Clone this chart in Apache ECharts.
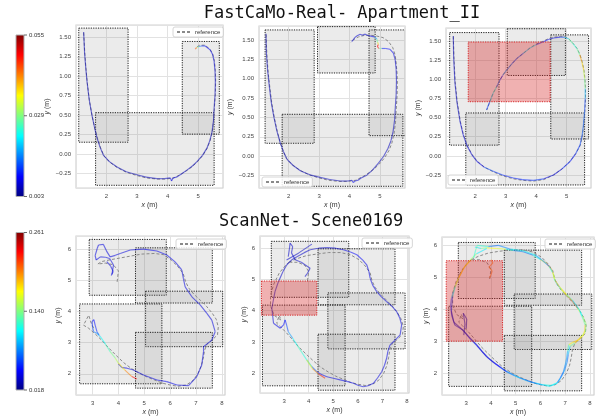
<!DOCTYPE html>
<html><head><meta charset="utf-8">
<script src="https://cdn.jsdelivr.net/npm/echarts@6/dist/echarts.min.js"></script>
<style>html,body{margin:0;padding:0;background:#fff}#c{width:603px;height:417px}</style>
</head><body><div id="c"></div>
<script>
// ---------------- DATA ----------------
const titles = ['FastCaMo-Real- Apartment_II', 'ScanNet- Scene0169'];
const errRangeTop = [0.003, 0.055];
const errRangeBot = [0.018, 0.261];
const cbLabelsTop = ['0.055', '0.029', '0.003'];
const cbLabelsBot = ['0.261', '0.140', '0.018'];
const xRanges = [[1.01, 5.81], [1.03, 5.82], [1.04, 5.80], [2.36, 8.12], [2.02, 8.08], [2.02, 8.17]];
const yRanges = [[-0.44, 1.66], [-0.41, 1.68], [-0.42, 1.67], [1.32, 6.42], [1.37, 6.39], [1.33, 6.26]];
const xSteps = [1, 1, 1, 1, 1, 1];
const ySteps = [0.25, 0.25, 0.25, 1, 1, 1];

// boxes: [x1, y1, x2, y2]
const fcBoxes1 = [[1.10, 0.15, 2.71, 1.62], [1.65, -0.405, 5.52, 0.53], [4.48, 0.254, 5.69, 1.448]];
const fcBoxes2 = [[1.23, 0.167, 2.84, 1.629], [1.79, -0.388, 5.75, 0.541], [2.95, 1.074, 4.84, 1.672], [4.64, 0.265, 5.85, 1.629]];
const fcBoxes3 = [[1.16, 0.14, 2.78, 1.61], [1.69, -0.38, 5.59, 0.56], [3.05, 1.05, 4.96, 1.66], [4.48, 0.22, 5.72, 1.58]];
const fcRed3 = [[1.77, 0.707, 4.46, 1.487]];
const scBoxes4 = [[2.87, 4.52, 5.85, 6.31], [4.66, 4.27, 7.63, 6.04], [5.05, 2.87, 8.03, 4.65], [2.50, 1.68, 5.68, 4.24], [4.66, 1.54, 7.63, 3.33]];
const scBoxes5 = [[2.48, 4.43, 5.63, 6.22], [4.38, 4.19, 7.51, 5.98], [4.78, 2.78, 7.92, 4.57], [2.12, 1.60, 5.48, 4.18], [4.38, 1.46, 7.51, 3.25]];
const scRed5 = [[2.08, 3.86, 4.33, 4.95]];
const scBoxes6 = [[2.68, 4.34, 5.79, 6.09], [4.54, 4.13, 7.67, 5.85], [4.94, 2.75, 8.08, 4.48], [2.29, 1.60, 5.65, 4.10], [4.54, 1.46, 7.67, 3.19]];
const scRed6 = [[2.19, 3.01, 4.47, 5.52]];

// reference trajectories [x, y]
const fcRef1 = [[1.26,1.56],[1.30,1.28],[1.34,1.08],[1.38,0.91],[1.45,0.68],[1.54,0.48],[1.63,0.32],[1.72,0.19],[1.82,0.07],[1.93,-0.03],[2.12,-0.11],[2.37,-0.18],[2.67,-0.24],[3.0,-0.28],[3.3,-0.31],[3.65,-0.325],[3.95,-0.325],[4.2,-0.31],[4.45,-0.26],[4.65,-0.21],[4.82,-0.16],[4.98,-0.10],[5.15,-0.02],[5.29,0.07],[5.39,0.17],[5.46,0.29],[5.51,0.44],[5.53,0.60],[5.56,0.77],[5.57,0.94],[5.56,1.07],[5.53,1.20],[5.47,1.29],[5.38,1.35],[5.22,1.40],[5.05,1.40],[4.92,1.37]];
const fcRef2 = [[1.26,1.57],[1.29,1.30],[1.33,1.08],[1.38,0.91],[1.45,0.68],[1.54,0.48],[1.63,0.32],[1.72,0.19],[1.82,0.07],[1.93,-0.03],[2.12,-0.11],[2.37,-0.18],[2.67,-0.24],[3.0,-0.28],[3.3,-0.31],[3.65,-0.325],[3.95,-0.325],[4.2,-0.31],[4.45,-0.26],[4.65,-0.21],[4.82,-0.16],[4.98,-0.10],[5.15,-0.02],[5.29,0.07],[5.39,0.17],[5.46,0.29],[5.51,0.44],[5.53,0.60],[5.56,0.77],[5.57,0.94],[5.56,1.07],[5.53,1.20],[5.50,1.30],[5.42,1.40],[5.28,1.48],[5.10,1.53],[4.90,1.55],[4.70,1.56],[4.50,1.56],[4.30,1.54],[4.15,1.51],[4.05,1.47]];
const fcRef3 = [[1.28,1.56],[1.30,1.30],[1.34,0.97],[1.41,0.70],[1.51,0.45],[1.61,0.28],[1.73,0.14],[1.89,0.02],[2.06,-0.07],[2.31,-0.15],[2.60,-0.21],[2.90,-0.26],[3.25,-0.30],[3.55,-0.32],[3.91,-0.33],[4.25,-0.31],[4.57,-0.25],[4.85,-0.17],[5.12,-0.07],[5.30,0.03],[5.45,0.14],[5.52,0.27],[5.56,0.40],[5.60,0.58],[5.62,0.75],[5.62,0.88],[5.60,1.01],[5.57,1.12],[5.51,1.23],[5.44,1.32],[5.35,1.40],[5.21,1.47],[5.07,1.53],[4.92,1.56],[4.79,1.56],[4.57,1.55],[4.40,1.53],[4.24,1.50],[4.00,1.46],[3.80,1.41],[3.58,1.34],[3.36,1.27],[3.20,1.20],[3.03,1.12],[2.90,1.05],[2.81,0.99],[2.70,0.90],[2.59,0.82],[2.48,0.71],[2.38,0.60]];
const scRef4 = [[3.95,4.95],[4.00,5.30],[3.80,5.50],[3.50,5.55],[3.20,5.52],[3.35,5.60],[3.70,5.66],[4.30,5.75],[4.90,5.84],[5.40,5.86],[5.75,5.82],[6.05,5.64],[6.30,5.44],[6.50,5.22],[6.60,4.95],[6.72,4.75],[6.92,4.55],[7.18,4.35],[7.42,4.15],[7.62,3.95],[7.78,3.75],[7.86,3.50],[7.83,3.25],[7.62,3.08],[7.42,2.95],[7.33,2.75],[7.28,2.50],[7.20,2.25],[7.07,2.00],[6.88,1.78],[6.62,1.64],[6.30,1.60],[6.00,1.64],[5.70,1.70],[5.40,1.80],[5.10,1.90],[4.80,2.02],[4.50,2.17],[4.20,2.36],[3.90,2.60],[3.60,2.85],[3.35,3.08],[3.10,3.28],[2.85,3.46],[2.65,3.56],[2.75,3.72],[2.85,3.88],[2.95,3.62],[3.05,3.45]];
const scRefLoop = [[3.20,5.55],[3.50,5.66],[3.90,5.76],[4.30,5.81],[4.80,5.86],[5.30,5.86],[5.70,5.79],[6.05,5.63],[6.30,5.43],[6.50,5.21],[6.58,4.95],[6.70,4.75],[6.90,4.55],[7.15,4.35],[7.40,4.15],[7.60,3.95],[7.75,3.75],[7.85,3.50],[7.82,3.25],[7.60,3.08],[7.40,2.95],[7.30,2.75],[7.25,2.50],[7.18,2.25],[7.05,2.00],[6.85,1.78],[6.60,1.65],[6.30,1.61],[6.00,1.65],[5.70,1.71],[5.40,1.81],[5.10,1.91],[4.80,2.04],[4.50,2.19],[4.20,2.39],[3.90,2.61],[3.60,2.84],[3.35,3.07],[3.10,3.29],[2.85,3.49],[2.70,3.60],[2.80,3.85],[2.88,3.70],[2.60,3.85],[2.45,4.15],[2.45,4.50],[2.58,4.85],[2.80,5.20],[3.00,5.40],[3.20,5.55]];
const scRefTwig = [[3.95,4.95],[4.00,5.25],[3.85,5.45],[3.55,5.55],[3.25,5.55]];

// estimated trajectories [x, y, error]
const fcEst1 = [[1.26,1.57,.006],[1.29,1.30,.006],[1.33,1.10,.006],[1.37,0.93,.006],[1.44,0.70,.006],[1.53,0.50,.006],[1.62,0.33,.006],[1.70,0.20,.006],[1.80,0.08,.006],[1.91,-0.02,.006],[2.10,-0.10,.006],[2.35,-0.17,.006],[2.65,-0.23,.006],[3.00,-0.27,.006],[3.30,-0.30,.006],[3.65,-0.32,.006],[3.90,-0.32,.006],[4.09,-0.31,.007],[4.13,-0.35,.008],[4.18,-0.31,.008],[4.30,-0.30,.007],[4.45,-0.26,.007],[4.63,-0.21,.006],[4.80,-0.16,.006],[4.96,-0.10,.006],[5.14,-0.02,.006],[5.28,0.07,.006],[5.38,0.17,.006],[5.45,0.28,.006],[5.50,0.43,.006],[5.52,0.59,.006],[5.55,0.76,.006],[5.56,0.93,.007],[5.55,1.06,.007],[5.52,1.19,.008],[5.47,1.28,.008],[5.39,1.34,.009],[5.23,1.39,.010],[5.10,1.39,.012],[5.01,1.38,.020],[4.95,1.37,.040],[4.90,1.35,.048]];
const fcEst2 = [[1.26,1.58,.006],[1.27,1.35,.006],[1.31,1.12,.006],[1.36,0.93,.006],[1.43,0.70,.006],[1.52,0.50,.006],[1.62,0.32,.006],[1.72,0.18,.006],[1.83,0.06,.006],[1.95,-0.04,.006],[2.15,-0.12,.006],[2.40,-0.19,.006],[2.70,-0.24,.006],[3.00,-0.27,.006],[3.35,-0.30,.006],[3.70,-0.32,.006],[3.95,-0.32,.006],[4.08,-0.31,.007],[4.12,-0.34,.008],[4.18,-0.32,.008],[4.28,-0.31,.007],[4.38,-0.28,.007],[4.55,-0.25,.006],[4.75,-0.18,.006],[4.95,-0.09,.006],[5.12,0.00,.006],[5.26,0.10,.006],[5.36,0.20,.006],[5.43,0.32,.006],[5.48,0.47,.006],[5.50,0.62,.006],[5.53,0.80,.006],[5.54,0.97,.006],[5.53,1.12,.007],[5.50,1.24,.007],[5.44,1.33,.008],[5.33,1.38,.009],[5.18,1.39,.010],[5.05,1.39,.012],[4.96,1.39,.045],[4.91,1.42,.052],[4.95,1.44,.045],[4.92,1.47,.030],[4.90,1.51,.025],[4.82,1.54,.010],[4.70,1.55,.008],[4.58,1.56,.007],[4.50,1.575,.007],[4.42,1.56,.007],[4.35,1.575,.007],[4.25,1.555,.007],[4.17,1.53,.007],[4.12,1.50,.007],[4.07,1.48,.007]];
const fcEst3 = [[1.28,1.565,.006],[1.29,1.30,.006],[1.33,0.97,.007],[1.40,0.70,.006],[1.50,0.45,.007],[1.60,0.28,.009],[1.72,0.14,.007],[1.88,0.02,.008],[2.05,-0.07,.007],[2.30,-0.15,.010],[2.59,-0.20,.016],[2.90,-0.25,.008],[3.25,-0.29,.014],[3.55,-0.31,.008],[3.91,-0.32,.015],[4.25,-0.30,.009],[4.57,-0.25,.007],[4.85,-0.17,.009],[5.12,-0.07,.013],[5.30,0.03,.008],[5.44,0.14,.016],[5.51,0.27,.010],[5.55,0.40,.018],[5.59,0.58,.010],[5.61,0.75,.015],[5.61,0.88,.022],[5.59,1.01,.035],[5.56,1.12,.030],[5.50,1.23,.045],[5.43,1.32,.035],[5.34,1.40,.020],[5.20,1.47,.030],[5.06,1.53,.024],[4.92,1.55,.015],[4.79,1.55,.010],[4.57,1.54,.007],[4.40,1.52,.008],[4.24,1.49,.010],[4.00,1.45,.012],[3.80,1.41,.030],[3.58,1.34,.010],[3.36,1.27,.018],[3.20,1.20,.009],[3.03,1.12,.022],[2.90,1.05,.012],[2.81,0.99,.009],[2.70,0.90,.020],[2.59,0.82,.028],[2.48,0.71,.014],[2.37,0.60,.010]];

const scEst4a = [[3.75,5.19,.04],[3.78,5.35,.04],[3.81,5.49,.04],[3.66,5.70,.04],[3.50,5.74,.04],[3.30,5.75,.04],[3.14,5.65,.04],[3.10,5.79,.04],[3.18,6.02,.04],[3.23,6.13,.04],[3.42,6.15,.04],[3.56,5.91,.04],[3.68,5.75,.04],[3.88,5.80,.04],[4.07,5.86,.04],[4.46,5.97,.04],[4.97,6.00,.045],[5.49,5.94,.045],[5.87,5.81,.045],[6.19,5.59,.04],[6.45,5.33,.04],[6.51,5.06,.04],[6.58,4.79,.04],[6.84,4.47,.04],[7.16,4.21,.04],[7.42,3.94,.04],[7.61,3.72,.04],[7.74,3.35,.04],[7.61,3.08,.04],[7.29,2.87,.04],[7.29,2.71,.04],[7.22,2.28,.04],[7.03,1.91,.04],[6.71,1.62,.04],[6.26,1.64,.04],[5.87,1.75,.045],[5.49,1.80,.045],[4.97,1.96,.04],[4.58,2.12,.04],[4.33,2.18,.04],[4.14,2.20,.04],[4.00,2.32,.045]];
const scEst4b = [[3.55,5.60,.04],[3.70,5.45,.04],[3.80,5.28,.04],[3.72,5.15,.04]];
const scEst4c = [[4.71,1.83,.245],[4.52,1.91,.215],[4.25,2.12,.185],[4.00,2.34,.16],[3.88,2.50,.145],[3.68,2.71,.13],[3.50,2.95,.12],[3.30,3.19,.10],[3.17,3.30,.085],[3.04,3.35,.07],[3.00,3.50,.06],[2.98,3.67,.055],[3.05,3.74,.05],[3.10,3.56,.05],[3.17,3.35,.06],[3.25,3.25,.07]];

const scEst5a = [[2.50,4.08,.035],[2.63,4.61,.035],[2.77,4.93,.035],[2.95,5.25,.035],[3.11,5.47,.035],[3.30,5.62,.035],[3.52,5.73,.035],[3.80,5.85,.035],[4.06,5.95,.035],[4.40,6.00,.035],[4.74,6.02,.035],[5.10,6.00,.04],[5.41,5.95,.045],[5.70,5.88,.045],[5.96,5.79,.05],[6.20,5.62,.045],[6.36,5.47,.04],[6.45,5.25,.04],[6.50,5.04,.04],[6.60,4.82,.04],[6.77,4.61,.04],[6.95,4.45,.04],[7.17,4.29,.04],[7.40,4.13,.04],[7.58,3.97,.04],[7.70,3.78,.04],[7.78,3.55,.04],[7.72,3.23,.04],[7.50,3.05,.04],[7.31,2.91,.04],[7.22,2.70,.04],[7.17,2.48,.04],[7.08,2.25,.04],[6.97,2.05,.04],[6.80,1.85,.04],[6.63,1.68,.04],[6.42,1.60,.04],[6.22,1.57,.04],[6.00,1.62,.04],[5.82,1.68,.045],[5.55,1.74,.045],[5.28,1.79,.045],[5.00,1.84,.04],[4.74,1.89,.04],[4.50,1.97,.045],[4.33,2.05,.06],[4.12,2.22,.08],[3.92,2.43,.11],[3.72,2.67,.125],[3.52,2.91,.12],[3.35,3.12,.10],[3.17,3.33,.07],[3.10,3.55,.06],[3.04,3.71,.05],[2.98,3.55,.05],[2.84,3.44,.045],[2.57,3.60,.04],[2.50,4.08,.035]];
const scEst5b = [[3.92,2.43,.15],[4.15,2.15,.18],[4.40,1.98,.21],[4.67,1.84,.235]];
const scEst5c = [[3.17,5.73,.035],[3.22,6.00,.035],[3.24,6.16,.035],[3.35,6.05,.035],[3.30,5.85,.035],[3.45,5.63,.035],[3.70,5.55,.035],[3.85,5.47,.035],[4.06,5.36,.035],[3.95,5.20,.035],[3.85,5.09,.035]];
const scEst5d = [[3.10,5.62,.035],[3.60,5.85,.035],[4.13,6.13,.035]];

const scEst6a = [[3.35,5.95,.08],[3.60,5.90,.12],[3.83,5.92,.16],[4.23,5.90,.18],[4.60,5.88,.14],[4.90,5.84,.09],[5.30,5.80,.07],[5.71,5.69,.08],[6.00,5.56,.15],[6.26,5.43,.20],[6.45,5.25,.21],[6.52,5.12,.18],[6.56,4.95,.12],[6.66,4.81,.09],[6.85,4.62,.13],[6.99,4.50,.17],[7.15,4.38,.20],[7.33,4.23,.22],[7.50,4.05,.19],[7.60,3.92,.14],[7.72,3.72,.10],[7.81,3.51,.17],[7.80,3.35,.20],[7.74,3.20,.16],[7.55,3.05,.18],[7.33,2.98,.19],[7.15,2.90,.15],[7.10,2.70,.10],[7.06,2.47,.08],[7.00,2.25,.09],[6.93,2.05,.07],[6.80,1.85,.06],[6.66,1.69,.09],[6.39,1.60,.11],[6.20,1.63,.10],[5.98,1.66,.08],[5.70,1.72,.07],[5.45,1.79,.06],[5.15,1.87,.08],[4.90,1.97,.09],[4.60,2.08,.07],[4.36,2.21,.05],[4.10,2.35,.04],[3.83,2.52,.035],[3.60,2.72,.04],[3.42,2.88,.05],[3.15,3.09,.06],[2.88,3.35,.04],[2.54,3.51,.035],[2.41,3.82,.04],[2.37,4.13,.05],[2.40,4.35,.07],[2.47,4.55,.11],[2.58,4.78,.16],[2.68,4.96,.19],[2.88,5.27,.20],[3.15,5.53,.17],[3.42,5.74,.12],[3.83,5.90,.09]];
const scEst6b = [[3.30,5.60,.14],[3.38,5.85,.10],[3.45,6.00,.16],[3.90,5.96,.08],[4.30,6.00,.07],[4.80,5.88,.09],[5.30,5.83,.12],[5.80,5.70,.10],[6.10,5.52,.07],[6.35,5.35,.09],[6.50,5.15,.14],[6.60,4.90,.18],[6.78,4.70,.20],[7.05,4.47,.15],[7.30,4.28,.11],[7.55,4.02,.09],[7.70,3.80,.13],[7.85,3.55,.16],[7.82,3.30,.12],[7.65,3.15,.19],[7.40,2.95,.17],[7.20,2.85,.11],[7.13,2.60,.08],[7.08,2.35,.07],[6.98,2.10,.09],[6.85,1.90,.08],[6.70,1.72,.10],[6.45,1.63,.12],[6.10,1.65,.11],[5.80,1.70,.09],[5.50,1.76,.08],[5.20,1.85,.10],[4.95,1.93,.09],[4.65,2.05,.07],[4.40,2.18,.05],[4.15,2.32,.045],[3.90,2.48,.04],[3.65,2.68,.045],[3.40,2.92,.035],[3.10,3.15,.03],[2.80,3.40,.03],[2.50,3.60,.03],[2.40,3.95,.035],[2.45,4.40,.09],[2.55,4.70,.13],[2.70,5.00,.17],[2.95,5.35,.19],[3.20,5.55,.16]];
const scEst6c = [[3.95,4.98,.20],[4.05,5.20,.21],[3.92,5.32,.19],[4.08,5.45,.22],[4.00,5.55,.18]];
const scEst6d = [[2.90,3.20,.03],[2.95,3.55,.03],[2.88,3.88,.03],[3.02,3.70,.03],[3.00,3.40,.03]];

// ---------------- CHART ----------------
const jet = ['#00007f', '#0000ff', '#007fff', '#00ffff', '#7fff7f', '#ffff00', '#ff7f00', '#ff0000', '#7f0000'];
const gridRects = [
  {left: 76, top: 25, width: 147, height: 163},
  {left: 259, top: 26, width: 146, height: 162},
  {left: 446, top: 28, width: 145, height: 160},
  {left: 76, top: 236, width: 149, height: 159},
  {left: 260, top: 236, width: 149, height: 157},
  {left: 442, top: 237, width: 152, height: 158}
];
const yNameGap = [25, 25, 24, 14, 12, 12];
const legendPos = [
  {left: 173, top: 27}, {left: 262, top: 177}, {left: 448, top: 175},
  {left: 176, top: 239}, {left: 362, top: 238}, {left: 545, top: 239}
];
const FONT = 'Liberation Sans';

function tickFmt(step, dec) {
  return function (v) {
    const k = v / step;
    if (Math.abs(k - Math.round(k)) > 1e-6) return '';
    return v.toFixed(dec).replace('-', '\u2212');
  };
}

const grids = gridRects.map(r => Object.assign({show: true, borderColor: '#d2d2d2', borderWidth: 1.2, backgroundColor: '#fff'}, r));
const xAxes = [], yAxes = [];
const nameStyle = {fontSize: 7, color: '#333', fontFamily: FONT, rich: {i: {fontStyle: 'italic', fontSize: 7, color: '#333', fontFamily: FONT}}};
for (let g = 0; g < 6; g++) {
  xAxes.push({
    gridIndex: g, type: 'value', min: xRanges[g][0], max: xRanges[g][1],
    minInterval: xSteps[g], maxInterval: xSteps[g], splitNumber: 5,
    axisLine: {show: false}, axisTick: {show: false},
    axisLabel: {fontSize: 6, color: '#444', margin: 5, fontFamily: FONT, formatter: tickFmt(xSteps[g], 0)},
    splitLine: {lineStyle: {color: '#e2e2e2', width: 1}},
    name: '{i|x} (m)', nameLocation: 'middle', nameGap: 14, nameTextStyle: nameStyle
  });
  yAxes.push({
    gridIndex: g, type: 'value', min: yRanges[g][0], max: yRanges[g][1],
    minInterval: ySteps[g], maxInterval: ySteps[g], splitNumber: g < 3 ? 8 : 5,
    axisLine: {show: false}, axisTick: {show: false},
    axisLabel: {fontSize: 6, color: '#444', margin: 5, fontFamily: FONT, formatter: tickFmt(ySteps[g], g < 3 ? 2 : 0)},
    splitLine: {lineStyle: {color: '#e2e2e2', width: 1}},
    name: '{i|y} (m)', nameLocation: 'middle', nameGap: yNameGap[g], nameTextStyle: nameStyle
  });
}

function boxRender(fill, stroke) {
  return function (params, api) {
    const p1 = api.coord([api.value(0), api.value(3)]);
    const p2 = api.coord([api.value(2), api.value(1)]);
    return {type: 'rect', shape: {x: p1[0], y: p1[1], width: p2[0] - p1[0], height: p2[1] - p1[1]},
      style: {fill: fill, stroke: stroke, lineWidth: 1, lineDash: [1.2, 1.2]}};
  };
}
function segRender(params, api) {
  const a = api.coord([api.value(0), api.value(1)]);
  const b = api.coord([api.value(2), api.value(3)]);
  const col = echarts.color.modifyAlpha(api.visual('color'), 0.55);
  return {type: 'line', shape: {x1: a[0], y1: a[1], x2: b[0], y2: b[1]},
    style: {stroke: col, lineWidth: 1.15, lineCap: 'butt'}};
}

const series = [];
const estTop = [], estBot = [];
function addPlot(g, boxes, reds, refPaths, estPaths, isTop) {
  series.push({type: 'custom', xAxisIndex: g, yAxisIndex: g, z: 1, silent: true, clip: true,
    data: boxes, renderItem: boxRender('rgba(120,120,120,0.15)', '#1e1e1e')});
  refPaths.forEach(p => series.push({type: 'line', name: 'reference', xAxisIndex: g, yAxisIndex: g, z: 2,
    data: p, symbol: 'none', silent: true, clip: true,
    lineStyle: {color: '#8a8a8a', width: 1, type: [3, 2]}, itemStyle: {color: '#8a8a8a'}}));
  const segs = [];
  estPaths.forEach(p => { for (let i = 0; i < p.length - 1; i++) segs.push([p[i][0], p[i][1], p[i + 1][0], p[i + 1][1], (p[i][2] + p[i + 1][2]) / 2]); });
  (isTop ? estTop : estBot).push(series.length);
  series.push({type: 'custom', xAxisIndex: g, yAxisIndex: g, z: 3, silent: true, clip: true,
    data: segs, encode: {x: [0, 2], y: [1, 3]}, renderItem: segRender});
  if (reds) series.push({type: 'custom', xAxisIndex: g, yAxisIndex: g, z: 4, silent: true, clip: true,
    data: reds, renderItem: boxRender('rgba(214,39,40,0.36)', '#d62728')});
}
addPlot(0, fcBoxes1, null, [fcRef1], [fcEst1], true);
addPlot(1, fcBoxes2, null, [fcRef2], [fcEst2], true);
addPlot(2, fcBoxes3, fcRed3, [fcRef3], [fcEst3], true);
addPlot(3, scBoxes4, null, [scRef4], [scEst4a, scEst4b, scEst4c], false);
addPlot(4, scBoxes5, scRed5, [scRefLoop, scRefTwig], [scEst5a, scEst5b, scEst5c, scEst5d], false);
addPlot(5, scBoxes6, scRed6, [scRefLoop, scRefTwig], [scEst6a, scEst6b, scEst6c, scEst6d], false);

const legends = legendPos.map(p => ({
  left: p.left, top: p.top, data: ['reference'], orient: 'horizontal',
  itemWidth: 13, itemHeight: 5, itemGap: 4, padding: [2, 3, 2, 3],
  itemStyle: {opacity: 0},
  backgroundColor: 'rgba(255,255,255,0.85)', borderColor: '#cccccc', borderWidth: 0.8, borderRadius: 2,
  textStyle: {fontSize: 6, color: '#333', fontFamily: FONT},
  selectedMode: false
}));

function colorbar(top, bottom, labels) {
  const els = [];
  els.push({type: 'rect', shape: {x: 16, y: top, width: 8, height: bottom - top},
    style: {fill: {type: 'linear', x: 0, y: 1, x2: 0, y2: 0, colorStops: jet.map((c, i) => ({offset: i / (jet.length - 1), color: c}))},
      stroke: '#b0b0b0', lineWidth: 1}});
  labels.forEach((t, i) => {
    const y = top + i * (bottom - top) / (labels.length - 1);
    els.push({type: 'line', shape: {x1: 24, y1: y, x2: 27, y2: y}, style: {stroke: '#444', lineWidth: 0.8}});
    els.push({type: 'text', x: 29, y: y, style: {text: t, font: '6px "' + FONT + '"', fill: '#333', verticalAlign: 'middle', align: 'left'}});
  });
  return els;
}

const graphics = [].concat(
  colorbar(35, 196.5, cbLabelsTop),
  colorbar(232.5, 390, cbLabelsBot),
  [
    {type: 'text', x: 342, y: 13.5, style: {text: titles[0], font: '17px "DejaVu Sans Mono"', fill: '#111', align: 'center', verticalAlign: 'middle'}},
    {type: 'text', x: 311, y: 222, style: {text: titles[1], font: '17px "DejaVu Sans Mono"', fill: '#111', align: 'center', verticalAlign: 'middle'}}
  ]
);

const chart = echarts.init(document.getElementById('c'), null, {renderer: 'canvas'});
chart.setOption({
  animation: false,
  backgroundColor: '#fff',
  grid: grids, xAxis: xAxes, yAxis: yAxes,
  legend: legends,
  visualMap: [
    {type: 'continuous', show: false, seriesIndex: estTop, dimension: 4, min: errRangeTop[0], max: errRangeTop[1], inRange: {color: jet}},
    {type: 'continuous', show: false, seriesIndex: estBot, dimension: 4, min: errRangeBot[0], max: errRangeBot[1], inRange: {color: jet}}
  ],
  graphic: graphics,
  series: series
});
</script></body></html>
